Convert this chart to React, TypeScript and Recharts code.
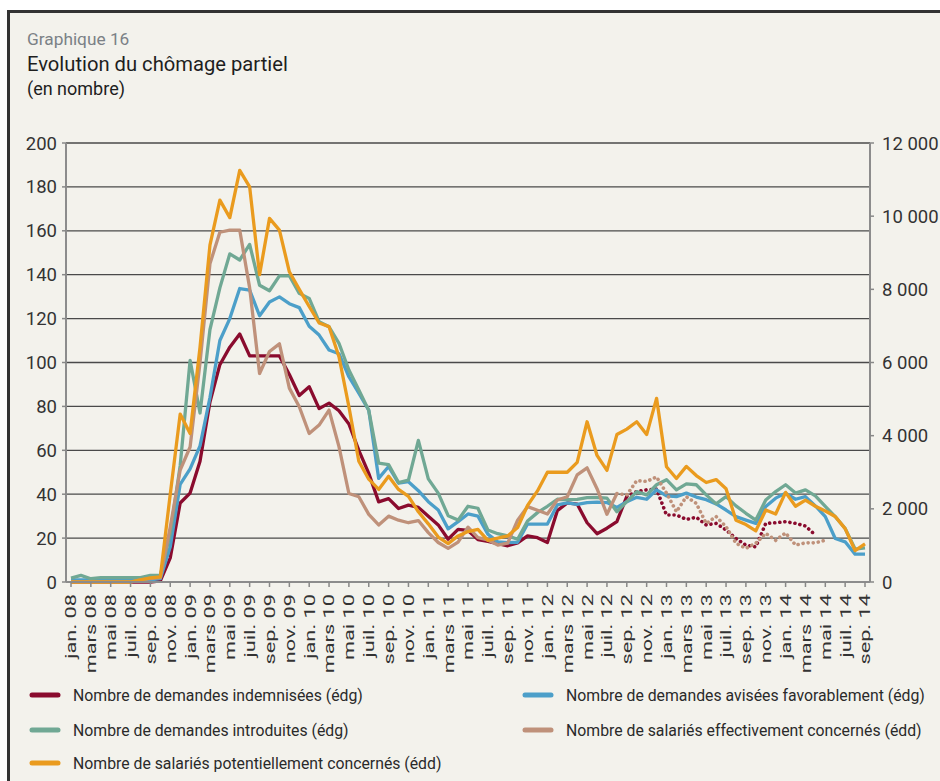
import React from "react";
import { LineChart, Line, XAxis, YAxis, CartesianGrid } from "recharts";

const MONTHS = ["jan.", "févr.", "mars", "avr.", "mai", "juin", "juil.", "août", "sep.", "oct.", "nov.", "déc."];
const YEARS = ["08", "09", "10", "11", "12", "13", "14"];
// jan. 08 -> sep. 14
const categories = YEARS.flatMap((y) => MONTHS.map((m) => `${m} ${y}`)).slice(0, 81);

// left scale (édg)
const demandesIndemnisees = [
  0, 0, 0, 0, 0, 0, 0, 0, 0, 0.5,
  11, 36, 40.5, 55, 82, 99, 107, 113, 103, 103,
  103, 103, 94.5, 85, 89, 79, 81.5, 78, 72, 60,
  49.5, 36.5, 38, 33.5, 35, 34, 30, 26, 19.5, 24,
  23.5, 19.3, 18.5, 17.5, 16.5, 17.8, 21, 20.2, 18, 32.5,
  36, 35.5, 27, 22, 24.5, 27.5, 39,
];
const indemniseesProvStart = 56;
const demandesIndemniseesProv = [
  39, 41.2, 42, 42.3, 30.5, 30.5, 28.5, 29.5, 26, 26.7,
  23.7, 19.8, 16.8, 16, 26.7, 27, 27.5, 26.7, 25.5, 21.4,
];

const demandesAvisees = [
  1, 1, 1, 1, 1, 1, 1, 1, 1, 1.5,
  16, 44.5, 51.5, 62, 84, 110, 120, 133.7, 133, 121.3,
  127.6, 129.9, 126.8, 125, 116.5, 112.5, 105.7, 104, 93.5, 86,
  78.3, 47.2, 52.6, 45, 45.7, 41.6, 36.6, 32.8, 24.2, 27.5,
  31, 30, 21.8, 18.3, 17.9, 18.1, 26.4, 26.4, 26.4, 35.1,
  36, 35.4, 36.2, 36.4, 36.2, 34, 36.6, 38.6, 37.7, 42,
  39.2, 38.9, 40.5, 38.7, 37.5, 35.6, 32.8, 29.8, 28.2, 26.7,
  34.4, 38.2, 40.5, 37.7, 38.9, 34.7, 29.8, 19.8, 18.3, 12.7,
  12.7,
];

const demandesIntroduites = [
  1.8, 3, 1.5, 2, 2, 2, 2, 2, 3, 3,
  22, 53, 101, 77, 115, 134, 149.5, 146.7, 153.8, 135.2,
  132.7, 139.5, 139.5, 131.5, 129.2, 118.6, 116.3, 108.7, 96.6, 87.5,
  78.2, 54.2, 53.5, 45.3, 46.4, 64.5, 47, 40.5, 30.2, 28.2,
  34.5, 33.6, 23.7, 22, 21, 19.5, 27.8, 31.6, 34.5, 37.7,
  37.5, 37.6, 38.4, 38.5, 38.2, 32, 36.6, 41.2, 39.7, 44.3,
  46.6, 42, 44.7, 44.3, 39.7, 35.6, 38.9, 34.7, 31.3, 28.2,
  37.4, 41.2, 44.3, 40.5, 42, 39.2, 34.4, 29.8, 24.4, 15,
  15.5,
];

// right scale (édd)
const salariesEffectifs = [
  0, 0, 0, 0, 0, 0, 0, 60, 90, 120,
  1500, 3060, 3690, 6000, 8700, 9560, 9620, 9620, 8040, 5700,
  6300, 6510, 5300, 4790, 4060, 4290, 4700, 3700, 2420, 2330,
  1850, 1560, 1800, 1690, 1620, 1680, 1350, 1080, 920, 1090,
  1500, 1210, 1150, 1010, 1060, 1690, 2060, 1960, 1860, 2240,
  2330, 2930, 3120, 2550, 1850, 2420,
];
const effectifsProvStart = 55;
const salariesEffectifsProv = [
  2420, 2380, 2770, 2750, 2870, 2430, 1920, 2330, 2150, 1600,
  1790, 1510, 1060, 920, 1060, 1330, 1140, 1340, 1010, 1070,
  1070, 1140,
];

const salariesPotentiels = [
  0, 0, 0, 0, 0, 0, 0, 60, 110, 140,
  2400, 4590, 4060, 6420, 9210, 10440, 9960, 11250, 10800, 8400,
  9940, 9620, 8480, 8000, 7530, 7080, 6980, 6160, 4790, 3300,
  2810, 2530, 2890, 2530, 2340, 1920, 1590, 1230, 1050, 1260,
  1380, 1440, 1140, 1200, 1260, 1490, 2090, 2490, 3000, 3000,
  3000, 3270, 4380, 3460, 3050, 4030, 4180, 4380, 4030, 5020,
  3150, 2830, 3160, 2910, 2720, 2800, 2550, 1690, 1570, 1400,
  1970, 1860, 2450, 2070, 2240, 2070, 1940, 1790, 1460, 860,
  1040,
];

const leftTicks = [0, 20, 40, 60, 80, 100, 120, 140, 160, 180, 200];
const rightTicks = [0, 2000, 4000, 6000, 8000, 10000, 12000];

const RED = "#8a0b2e";
const BLUE = "#4c9fc9";
const GREEN = "#70a894";
const TAN = "#bf917a";
const ORANGE = "#ea9b1e";

const data = categories.map((m, i) => ({
  m,
  r: demandesIndemnisees[i] ?? null,
  rp: i >= indemniseesProvStart ? demandesIndemniseesProv[i - indemniseesProvStart] ?? null : null,
  b: demandesAvisees[i] ?? null,
  g: demandesIntroduites[i] ?? null,
  s: salariesEffectifs[i] ?? null,
  sp: i >= effectifsProvStart ? salariesEffectifsProv[i - effectifsProvStart] ?? null : null,
  o: salariesPotentiels[i] ?? null,
}));

const legendItems = [
  { label: "Nombre de demandes indemnisées (édg)", color: RED, x: 27, y: 695 },
  { label: "Nombre de demandes avisées favorablement (édg)", color: BLUE, x: 520, y: 695 },
  { label: "Nombre de demandes introduites (édg)", color: GREEN, x: 27, y: 730 },
  { label: "Nombre de salariés effectivement concernés (édd)", color: TAN, x: 520, y: 730 },
  { label: "Nombre de salariés potentiellement concernés (édd)", color: ORANGE, x: 27, y: 763 },
];

const FONT = "Roboto, 'Noto Sans', sans-serif";
const axisText = { fill: "#333", fontSize: 18.5, fontFamily: FONT };

const fmtThousands = (v: number) => String(v).replace(/\B(?=(\d{3})+(?!\d))/g, " ");

const MonthTick = (props: any) => {
  const { x, y, payload } = props;
  return (
    <g transform={`translate(${x},${y})`}>
      <text
        transform="rotate(-90) scale(1.45,1)"
        x={-3.5}
        y={0}
        dy="0.36em"
        textAnchor="end"
        fill="#333"
        fontSize={15}
        fontFamily={FONT}
      >
        {payload.value}
      </text>
    </g>
  );
};

export default function App() {
  return (
    <div style={{ position: "absolute", left: 0, top: 0, width: 940, height: 781, background: "#fff", overflow: "hidden" }}>
      <div
        style={{
          position: "absolute",
          left: 7,
          top: 10,
          width: 960,
          height: 800,
          borderTop: "3px solid #333",
          borderLeft: "3px solid #333",
          background: "#f3f2ec",
        }}
      />
      <svg width={940} height={781} style={{ position: "absolute", left: 0, top: 0 }}>
        <text x={27} y={45} fontSize={17.3} fill="#7b8186" fontFamily={FONT}>Graphique 16</text>
        <text x={27} y={71} fontSize={20.2} fill="#1e1e1e" fontFamily={FONT}>Evolution du chômage partiel</text>
        <text x={27} y={95} fontSize={18} fill="#1e1e1e" fontFamily={FONT}>(en nombre)</text>
        {legendItems.map((it) => (
          <g key={it.label}>
            <line x1={it.x + 5} x2={it.x + 31} y1={it.y} y2={it.y} stroke={it.color} strokeWidth={5} strokeLinecap="round" />
            <text x={it.x + 46} y={it.y} dominantBaseline="central" fontSize={15.8} fill="#2a2a2a" fontFamily={FONT}>
              {it.label}
            </text>
          </g>
        ))}
      </svg>
      <div style={{ position: "absolute", left: 0, top: 0 }}>
        <LineChart width={940} height={700} data={data} margin={{ top: 143, right: 0, bottom: 30, left: 0 }}>
          <CartesianGrid yAxisId="left" vertical={false} stroke="#4a4a4a" strokeWidth={1.3} />
          <XAxis
            dataKey="m"
            interval={1}
            height={88}
            padding={{ left: 5, right: 5 }}
            tick={<MonthTick />}
            tickSize={5}
            tickLine={{ stroke: "#888", strokeWidth: 1.5 }}
            axisLine={{ stroke: "#8c8c8c", strokeWidth: 2 }}
          />
          <YAxis
            yAxisId="left"
            width={66}
            domain={[0, 200]}
            ticks={leftTicks}
            interval={0}
            tick={axisText}
            tickSize={4}
            tickMargin={5}
            tickLine={{ stroke: "#888", strokeWidth: 1.5 }}
            axisLine={{ stroke: "#8c8c8c", strokeWidth: 2 }}
          />
          <YAxis
            yAxisId="right"
            orientation="right"
            width={70}
            domain={[0, 12000]}
            ticks={rightTicks}
            interval={0}
            tickFormatter={fmtThousands}
            tick={axisText}
            tickSize={4}
            tickMargin={8}
            tickLine={{ stroke: "#888", strokeWidth: 1.5 }}
            axisLine={{ stroke: "#8c8c8c", strokeWidth: 2 }}
          />
          <Line yAxisId="left" dataKey="r" stroke={RED} strokeWidth={3.3} dot={false} activeDot={false} isAnimationActive={false} strokeLinejoin="round" />
          <Line yAxisId="left" dataKey="rp" stroke={RED} strokeWidth={3.6} strokeDasharray="0.1 5" strokeLinecap="round" dot={false} activeDot={false} isAnimationActive={false} />
          <Line yAxisId="left" dataKey="b" stroke={BLUE} strokeWidth={3.3} dot={false} activeDot={false} isAnimationActive={false} strokeLinejoin="round" />
          <Line yAxisId="left" dataKey="g" stroke={GREEN} strokeWidth={3.3} dot={false} activeDot={false} isAnimationActive={false} strokeLinejoin="round" />
          <Line yAxisId="right" dataKey="s" stroke={TAN} strokeWidth={3.3} dot={false} activeDot={false} isAnimationActive={false} strokeLinejoin="round" />
          <Line yAxisId="right" dataKey="sp" stroke={TAN} strokeWidth={3.6} strokeDasharray="0.1 5" strokeLinecap="round" dot={false} activeDot={false} isAnimationActive={false} />
          <Line yAxisId="right" dataKey="o" stroke={ORANGE} strokeWidth={3.3} dot={false} activeDot={false} isAnimationActive={false} strokeLinejoin="round" />
        </LineChart>
      </div>
    </div>
  );
}
